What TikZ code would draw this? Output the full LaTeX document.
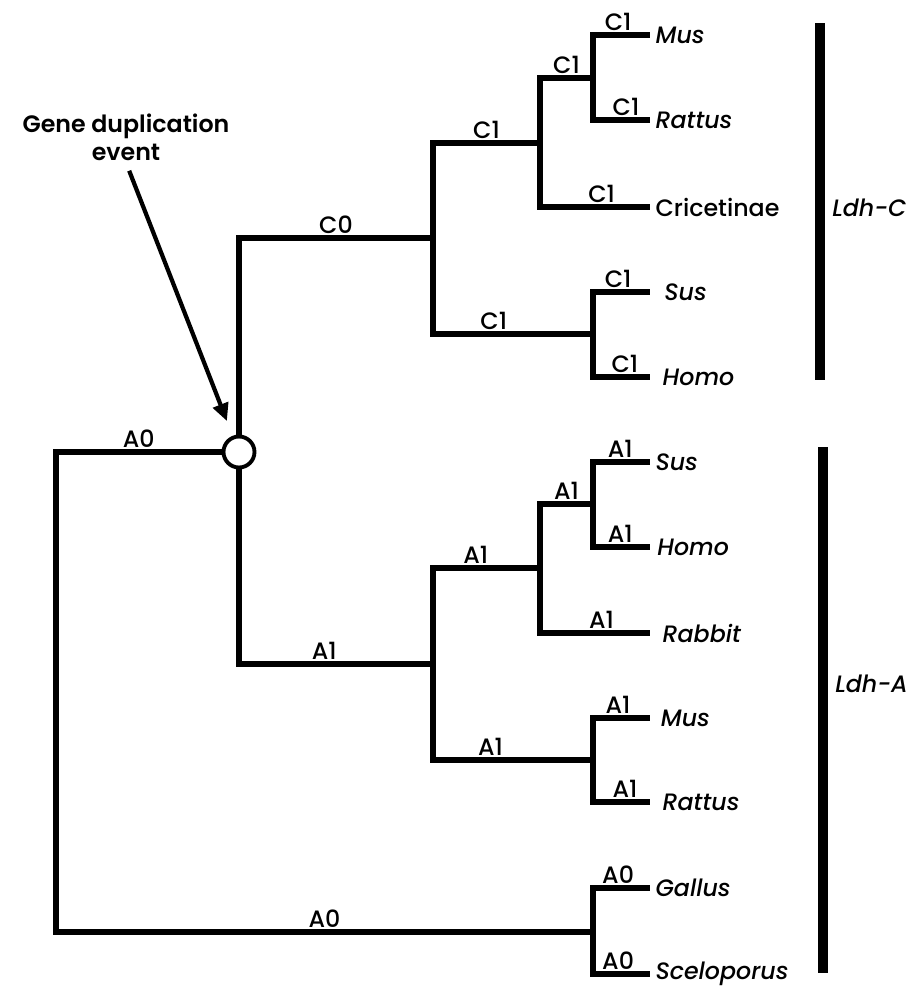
\documentclass[tikz,border=0pt]{standalone}
\usepackage{fontspec}
\setmainfont{Poppins}
\newfontfamily\medfont{Poppins Medium}[ItalicFont={Poppins Medium Italic}]
\newfontfamily\notefont{Poppins SemiBold}
\usetikzlibrary{positioning,arrows.meta,calc}

\begin{document}
\begin{tikzpicture}[x=0.02cm,y=-0.02cm,
  branch/.style={line width=3.1pt, line join=miter},
  brlab/.style={above=0pt, inner sep=1pt, font=\fontsize{13.5}{15}\medfont},
  taxon/.style={inner sep=1pt, font=\fontsize{13.5}{15}\medfont\itshape},
  genebar/.style={line width=5.2pt},
  genelab/.style={anchor=west, inner sep=0pt, font=\fontsize{13.5}{15}\medfont\itshape},
  dupnode/.style={circle, draw, fill=white, line width=2.2pt, minimum size=0.62cm, inner sep=0pt},
  pointer/.style={line width=2.4pt, -{Triangle[length=10pt,width=9pt]}}]
\useasboundingbox (0,0) rectangle (915,991);

% internal nodes
\coordinate (root) at (56,691.5);
\node[dupnode] (dup) at (239,452) {};
\coordinate (cn) at (433,238);
\coordinate (cn1) at (540,143);
\coordinate (cmr) at (593,78);
\coordinate (csh) at (593,334);
\coordinate (an) at (433,664);
\coordinate (an1) at (540,568);
\coordinate (ash) at (593,504);
\coordinate (amr) at (593,760);
\coordinate (ga) at (593,932);

% leaf ends
\coordinate (cMus) at (650,35);
\coordinate (cRat) at (650,120);
\coordinate (cCri) at (650,207);
\coordinate (cSus) at (650,292);
\coordinate (cHom) at (650,377);
\coordinate (aSus) at (650,462);
\coordinate (aHom) at (650,547);
\coordinate (aRab) at (650,633);
\coordinate (aMus) at (650,718);
\coordinate (aRat) at (650,802);
\coordinate (gGal) at (650,888);
\coordinate (gSce) at (650,974);

% branches
\draw[branch] (root) |- (dup.west) node[brlab, pos=0.75] (lA0a) {A0};
\draw[branch] (root) |- (ga) node[brlab, pos=0.75] (lA0b) {A0};
\draw[branch] (dup.north) |- (cn) node[brlab, pos=0.75] (lC0) {C0};
\draw[branch] (dup.south) |- (an) node[brlab, pos=0.72] (lA1) {A1};
\draw[branch] (cn) |- (cn1) node[brlab, pos=0.75] (lC1a) {C1};
\draw[branch] (cn) |- (csh) node[brlab, pos=0.69] (lC1b) {C1};
\draw[branch] (cn1) |- (cmr) node[brlab, pos=0.75] (lC1c) {C1};
\draw[branch] (cn1) |- (cCri) node[brlab, pos=0.78] (lC1d) {C1};
\draw[branch] (cmr) |- (cMus) node[brlab, pos=0.72] (lC1e) {C1};
\draw[branch] (cmr) |- (cRat) node[brlab, pos=0.79] (lC1f) {C1};
\draw[branch] (csh) |- (cSus) node[brlab, pos=0.72] (lC1g) {C1};
\draw[branch] (csh) |- (cHom) node[brlab, pos=0.78] (lC1h) {C1};
\draw[branch] (an) |- (an1) node[brlab, pos=0.7] (lA1a) {A1};
\draw[branch] (an) |- (amr) node[brlab, pos=0.68] (lA1b) {A1};
\draw[branch] (an1) |- (ash) node[brlab, pos=0.75] (lA1c) {A1};
\draw[branch] (an1) |- (aRab) node[brlab, pos=0.78] (lA1d) {A1};
\draw[branch] (ash) |- (aSus) node[brlab, pos=0.74] (lA1e) {A1};
\draw[branch] (ash) |- (aHom) node[brlab, pos=0.74] (lA1f) {A1};
\draw[branch] (amr) |- (aMus) node[brlab, pos=0.72] (lA1g) {A1};
\draw[branch] (amr) |- (aRat) node[brlab, pos=0.78] (lA1h) {A1};
\draw[branch] (ga) |- (gGal) node[brlab, pos=0.72] (lA0c) {A0};
\draw[branch] (ga) |- (gSce) node[brlab, pos=0.72] (lA0d) {A0};

% taxa
\node[taxon, right=2pt of cMus] (tcMus) {Mus};
\node[taxon, right=2pt of cRat] (tcRat) {Rattus};
\node[taxon, right=2pt of cCri, font=\fontsize{13.5}{15}\medfont] (tcCri) {Cricetinae};
\node[taxon, right=7pt of cSus] (tcSus) {Sus};
\node[taxon, right=6pt of cHom] (tcHom) {Homo};
\node[taxon, right=2pt of aSus] (taSus) {Sus};
\node[taxon, right=3pt of aHom] (taHom) {Homo};
\node[taxon, right=6pt of aRab] (taRab) {Rabbit};
\node[taxon, right=5pt of aMus] (taMus) {Mus};
\node[taxon, right=6pt of aRat] (taRat) {Rattus};
\node[taxon, right=2pt of gGal] (tgGal) {Gallus};
\node[taxon, right=2pt of gSce] (tgSce) {Sceloporus};

% gene bars
\coordinate (barCt) at (820,23);
\coordinate (barCb) at (820,380);
\coordinate (barAt) at (823,447);
\coordinate (barAb) at (823,973);
\draw[genebar] (barCt) -- (barCb);
\draw[genebar] (barAt) -- (barAb);
\node[genelab] (ldhC) at (832,208) {Ldh-C};
\node[genelab] (ldhA) at (835,684) {Ldh-A};

% duplication note
\node[align=center, inner sep=1pt, font=\fontsize{13.5}{16}\notefont] (gde) at (126,137) {Gene duplication\\event};
\draw[pointer, shorten <=5pt, shorten >=9pt] (gde.south) -- (dup);
\end{tikzpicture}
\end{document}
